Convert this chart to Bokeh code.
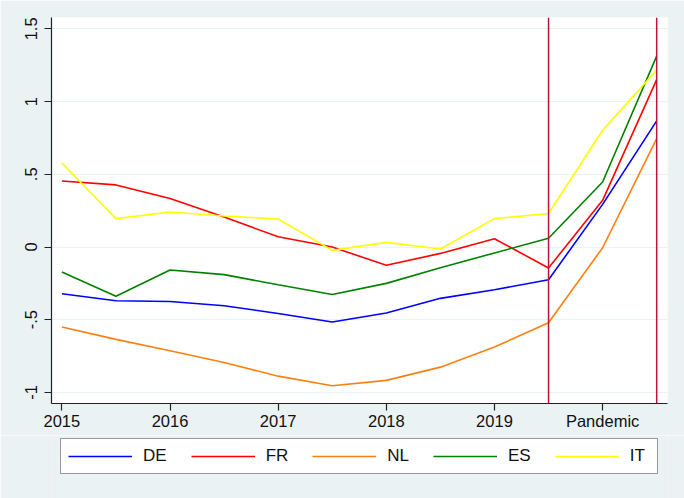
from bokeh.plotting import figure
from bokeh.layouts import column
from bokeh.models import Range1d, FixedTicker, Legend, LegendItem, Span
from bokeh.embed import file_html
from bokeh.resources import INLINE

periods = [2015, 2015.5, 2016, 2016.5, 2017, 2017.5, 2018, 2018.5, 2019, 2019.5, 2020, 2020.5]
de = [-0.321, -0.370, -0.375, -0.404, -0.457, -0.516, -0.454, -0.353, -0.294, -0.225, 0.293, 0.867]
fr = [0.454, 0.427, 0.333, 0.206, 0.070, 0.000, -0.126, -0.044, 0.057, -0.144, 0.321, 1.151]
nl = [-0.550, -0.635, -0.713, -0.794, -0.888, -0.954, -0.917, -0.826, -0.688, -0.521, -0.005, 0.745]
es = [-0.172, -0.339, -0.158, -0.190, -0.260, -0.326, -0.250, -0.142, -0.041, 0.060, 0.447, 1.312]
it = [0.578, 0.195, 0.241, 0.213, 0.193, -0.023, 0.032, -0.014, 0.195, 0.230, 0.803, 1.216]

series_names = ["DE", "FR", "NL", "ES", "IT"]
series_values = [de, fr, nl, es, it]
series_colors = ["#0000FF", "#FF0000", "#FF7F0E", "#008000", "#FFFF00"]

x_ticks = [2015, 2016, 2017, 2018, 2019, 2020]
x_labels = ["2015", "2016", "2017", "2018", "2019", "Pandemic"]
y_ticks = [-1, -0.5, 0, 0.5, 1, 1.5]
y_labels = ["-1", "-.5", "0", ".5", "1", "1.5"]
event_lines = [2019.5, 2020.5]

BG = "#EAF2F3"
FONT = "Liberation Sans"

p = figure(width=684, height=435, output_backend="svg", toolbar_location=None,
           x_range=Range1d(2014.904, 2020.6), y_range=Range1d(-1.076, 1.578),
           min_border_left=51, min_border_right=17, min_border_top=17, min_border_bottom=32)
p.background_fill_color = "white"
p.border_fill_color = BG
p.outline_line_color = None

p.xgrid.visible = False
p.ygrid.grid_line_color = BG
p.ygrid.grid_line_width = 1.2
p.ygrid.ticker = FixedTicker(ticks=y_ticks)

for ax in (p.xaxis[0], p.yaxis[0]):
    ax.axis_line_color = "#222222"
    ax.axis_line_width = 1.2
    ax.major_tick_line_color = "#222222"
    ax.major_tick_line_width = 1.2
    ax.major_tick_out = 7
    ax.major_tick_in = 0
    ax.minor_tick_line_color = None
    ax.major_label_text_font = FONT
    ax.major_label_text_font_size = "16.5px"
    ax.major_label_text_color = "#111111"

p.xaxis.ticker = FixedTicker(ticks=x_ticks)
p.xaxis.major_label_overrides = {t: l for t, l in zip(x_ticks, x_labels)}
p.xaxis.major_label_standoff = 1
p.yaxis.ticker = FixedTicker(ticks=y_ticks)
p.yaxis.major_label_overrides = {t: l for t, l in zip(y_ticks, y_labels)}
p.yaxis.major_label_orientation = "vertical"
p.yaxis.major_label_standoff = 7

for name, vals, col in zip(series_names, series_values, series_colors):
    p.line(periods, vals, line_color=col, line_width=1.6)

for xv in event_lines:
    p.add_layout(Span(location=xv, dimension="height", line_color="#BE1238", line_width=1.5))

# legend strip below the chart
lf = figure(width=684, height=63, output_backend="svg", toolbar_location=None,
            x_axis_type=None, y_axis_type=None,
            x_range=Range1d(0, 1), y_range=Range1d(0, 1),
            min_border_left=0, min_border_right=0, min_border_top=0, min_border_bottom=0)
lf.background_fill_color = BG
lf.border_fill_color = BG
lf.outline_line_color = None
lf.xgrid.visible = False
lf.ygrid.visible = False

items = []
for name, col in zip(series_names, series_colors):
    r = lf.line([5, 6], [5, 6], line_color=col, line_width=1.6)
    items.append(LegendItem(label=name, renderers=[r]))

legend = Legend(items=items, orientation="horizontal", location=(9, 24),
                glyph_width=64, glyph_height=18, label_standoff=11, spacing=24,
                padding=7, margin=0,
                label_text_font=FONT, label_text_font_size="17px", label_text_color="#111111",
                border_line_color="#333333", border_line_width=1.2,
                background_fill_color="white", background_fill_alpha=1.0)
lf.add_layout(legend, "center")

layout = column(p, lf, spacing=0)
open("out.html", "w").write(file_html(layout, INLINE))
